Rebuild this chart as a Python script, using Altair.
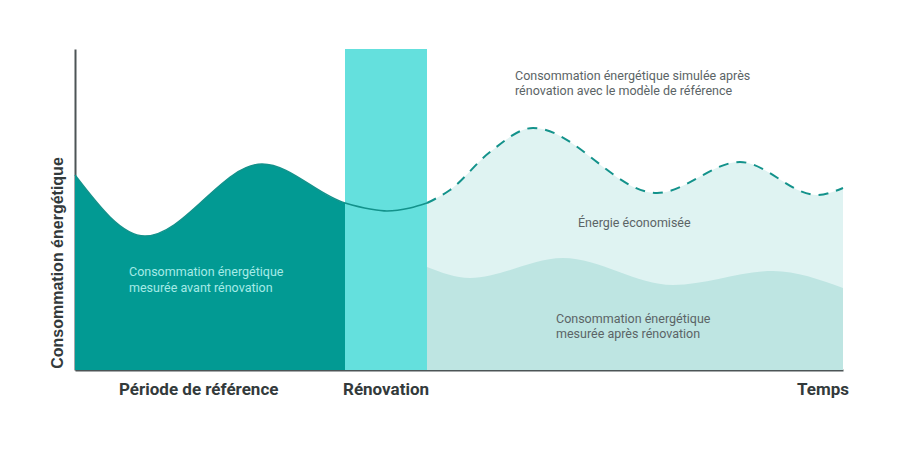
import altair as alt
import pandas as pd

# Reference (baseline model) curve: time position, energy level
ref_x = [0, 70, 187, 270, 295, 312, 335, 352, 375, 415, 458, 582, 665, 742, 768]
ref_y = [195, 134, 206, 167, 161, 159, 162, 167, 180, 218, 242, 177, 208, 175, 182]

# Measured consumption after renovation
after_x = [352, 395, 488, 598, 698, 768]
after_y = [103, 92, 112, 85, 99, 82]

# Renovation period
reno_start, reno_end, reno_top = 270, 352, 321

X_MAX, Y_MAX = 768, 321

ref = pd.DataFrame({"x": ref_x, "y": ref_y})
before = ref[ref.x <= reno_end]
model_after = ref[ref.x >= reno_end]
after = pd.DataFrame({"x": after_x, "y": after_y})
reno = pd.DataFrame({"x": [reno_start], "x2": [reno_end], "y": [0], "y2": [reno_top]})

# Annotation texts
ann_text = [
    "Consommation énergétique", "mesurée avant rénovation",
    "Consommation énergétique simulée après", "rénovation avec le modèle de référence",
    "Énergie économisée",
    "Consommation énergétique", "mesurée après rénovation",
]
ann_x = [54, 54, 440, 440, 503, 481, 481]
ann_y = [98, 82, 294, 279, 147, 51, 36]
ann_kind = ["dark", "dark", "grey", "grey", "grey", "grey", "grey"]
ann = pd.DataFrame({"t": ann_text, "x": ann_x, "y": ann_y, "k": ann_kind})

lab_text = ["Période de référence", "Rénovation"]
lab_x = [44, 268]
lab = pd.DataFrame({"t": lab_text, "x": lab_x, "y": [-20, -20]})
temps = pd.DataFrame({"t": ["Temps"], "x": [774], "y": [-20]})
ytitle = pd.DataFrame({"t": ["Consommation énergétique"], "x": [-17], "y": [107]})

xs = alt.Scale(domain=[0, X_MAX], nice=False, zero=False)
ys = alt.Scale(domain=[0, Y_MAX], nice=False)
ax_x = alt.Axis(domain=True, domainColor="#4d5556", domainWidth=2, ticks=False,
                labels=False, grid=False, title=None)
ax_y = alt.Axis(domain=True, domainColor="#4d5556", domainWidth=2, ticks=False,
                labels=False, grid=False, title=None)

X = alt.X("x:Q", scale=xs, axis=ax_x)
Y = alt.Y("y:Q", scale=ys, axis=ax_y)

dark_area = alt.Chart(before).mark_area(interpolate="monotone", color="#029a93").encode(X, Y)
light_area = alt.Chart(model_after).mark_area(interpolate="monotone", color="#dff3f2").encode(X, Y)
after_area = alt.Chart(after).mark_area(interpolate="monotone", color="#bee5e2").encode(X, Y)
bar = alt.Chart(reno).mark_rect(color="#64e0dd").encode(
    x=alt.X("x:Q", scale=xs, axis=ax_x), x2="x2:Q",
    y=alt.Y("y:Q", scale=ys, axis=ax_y), y2="y2:Q")
solid_line = alt.Chart(before).mark_line(interpolate="monotone", color="#13928b",
                                         strokeWidth=1.5).encode(X, Y)
dash_line = alt.Chart(model_after).mark_line(interpolate="monotone", color="#13928b",
                                             strokeWidth=2, strokeDash=[10, 8]).encode(X, Y)

ann_layer = alt.Chart(ann).mark_text(align="left", baseline="middle", font="Roboto",
                                     fontSize=12.5).encode(
    x=alt.X("x:Q", scale=xs), y=alt.Y("y:Q", scale=ys), text="t:N",
    color=alt.Color("k:N", scale=alt.Scale(domain=["dark", "grey"],
                                           range=["#a6ebe7", "#5b6466"]), legend=None))
lab_layer = alt.Chart(lab).mark_text(align="left", baseline="middle", font="Roboto",
                                     fontWeight="bold", fontSize=17, color="#333a3b").encode(
    x=alt.X("x:Q", scale=xs), y=alt.Y("y:Q", scale=ys), text="t:N")
temps_layer = alt.Chart(temps).mark_text(align="right", baseline="middle", font="Roboto",
                                         fontWeight="bold", fontSize=17, color="#333a3b").encode(
    x=alt.X("x:Q", scale=xs), y=alt.Y("y:Q", scale=ys), text="t:N")
ytitle_layer = alt.Chart(ytitle).mark_text(align="center", baseline="middle", angle=270,
                                           font="Liberation Sans", fontWeight="bold",
                                           fontSize=16, color="#333a3b").encode(
    x=alt.X("x:Q", scale=xs), y=alt.Y("y:Q", scale=ys), text="t:N")

chart = alt.layer(
    dark_area, light_area, after_area, bar, solid_line, dash_line,
    ann_layer, lab_layer, temps_layer, ytitle_layer
).properties(
    width=X_MAX, height=Y_MAX,
    background="white",
    autosize=alt.AutoSizeParams(type="none"),
    padding={"left": 67, "top": 41, "right": 45, "bottom": 70},
).configure_view(stroke=None)

chart.save("out.html", embed_options={"renderer": "svg", "actions": False})
